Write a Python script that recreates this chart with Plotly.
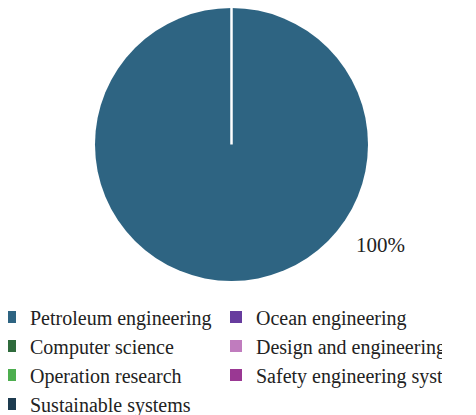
import plotly.graph_objects as go

labels = ["Petroleum engineering", "Ocean engineering", "Computer science",
          "Design and engineering", "Operation research",
          "Safety engineering systen", "Sustainable systems"]
values = [100, 0, 0, 0, 0, 0, 0]
colors = ["#2E6482", "#673C9E", "#2F6B3C", "#C07CBE", "#4DAE4F", "#9A3893", "#1D3B4F"]

W, H = 476, 415
FONT = "Liberation Serif, Times New Roman, serif"
BOTTOM = 126            # bottom margin (legend lives below the plot area)
HP = H - BOTTOM         # plot-area height in px


def xp(px):
    return px / W


def yp(py):
    return 1 - py / HP


# pie geometry (figure pixels)
cx, cy, r = 223.5, 136.5, 136.5
dom_x = [xp(cx - r), xp(cx + r)]
dom_y = [max(0, yp(cy + r)), min(1, yp(cy - r))]

fig = go.Figure(go.Pie(
    labels=labels, values=values, sort=False, direction="clockwise", rotation=0,
    marker=dict(colors=colors, line=dict(color="white", width=0)),
    textinfo="none", hoverinfo="label+percent",
    domain=dict(x=dom_x, y=dom_y),
))

total = sum(values)
pct = f"{100 * values[0] / total:.0f}%"

# slice boundary line from centre to top (start angle of the slices)
fig.add_shape(type="line", xref="paper", yref="paper",
              x0=xp(cx), y0=yp(cy), x1=xp(cx), y1=yp(cy - r),
              line=dict(color="white", width=2.5))

fig.add_annotation(text=pct, xref="paper", yref="paper",
                   x=xp(cx + 148.5), y=yp(cy + 100.5), showarrow=False,
                   xanchor="center", yanchor="middle",
                   font=dict(family=FONT, size=21, color="#222222"))

fig.update_layout(
    width=W, height=H,
    margin=dict(l=0, r=0, t=0, b=BOTTOM, autoexpand=False),
    paper_bgcolor="white", plot_bgcolor="white",
    font=dict(family=FONT, size=20, color="#222222"),
    showlegend=True,
    legend=dict(orientation="h", x=xp(-18), xanchor="left",
                y=yp(289.5), yanchor="top",
                entrywidth=181, entrywidthmode="pixels", traceorder="normal",
                itemwidth=30, tracegroupgap=0, borderwidth=0,
                font=dict(family=FONT, size=20, color="#222222"),
                bgcolor="rgba(0,0,0,0)"),
)

fig.write_html("out.html")
